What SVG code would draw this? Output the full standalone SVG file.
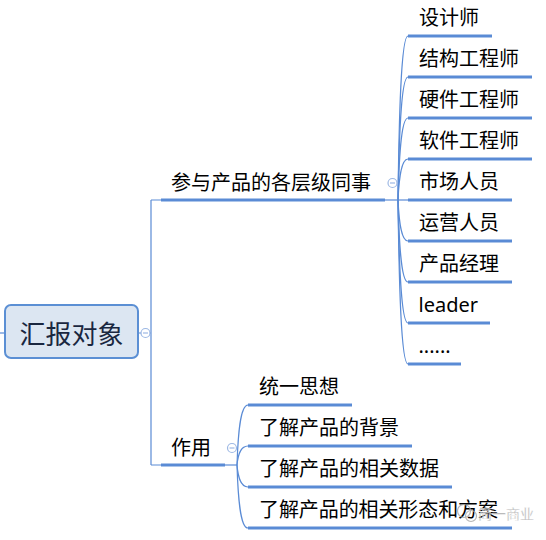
<svg xmlns="http://www.w3.org/2000/svg" width="546" height="540" viewBox="0 0 546 540">
<style>
.t{font-family:"Noto Sans CJK SC","Noto Sans",sans-serif;font-size:20px;fill:#000}
.lat{font-family:"Noto Sans","Noto Sans CJK SC",sans-serif;font-size:20px;fill:#000}
.ul{stroke:#5a8bd5;stroke-width:3;fill:none;stroke-linecap:butt}
.ln{stroke:#5a8bd5;stroke-width:1.2;fill:none}
.btn{fill:#fff;stroke:#9db8e4;stroke-width:1.2}
.mn{stroke:#9db8e4;stroke-width:1.2}
</style>
<rect width="546" height="540" fill="#fff"/>
<g id="connectors">
<path class="ln" d="M0,333 H5"/>
<path class="ln" d="M139,333 H151 M151,200 V465 M151,200 H161 M151,465 H161"/>
<path class="ln" d="M385,200 H408"/>
<path class="ln" d="M398,200 C399,118 401,36 408,36"/>
<path class="ln" d="M398,200 C399,138.5 401,77 408,77"/>
<path class="ln" d="M398,200 C399,159 401,118 408,118"/>
<path class="ln" d="M398,200 C399,179.5 401,159 408,159"/>
<path class="ln" d="M398,200 C399,220.5 401,241 408,241"/>
<path class="ln" d="M398,200 C399,241 401,282 408,282"/>
<path class="ln" d="M398,200 C399,261.5 401,323 408,323"/>
<path class="ln" d="M398,200 C399,282 401,364 408,364"/>
<path class="ln" d="M225,465 H237"/>
<path class="ln" d="M237,465 C238,435 240,405 248,405"/>
<path class="ln" d="M237,465 C238,455.5 240,446 248,446"/>
<path class="ln" d="M237,465 C238,476 240,487 248,487"/>
<path class="ln" d="M237,465 C238,496.5 240,528 248,528"/>
</g>
<g id="root">
<rect x="5" y="305" width="133" height="53" rx="6" fill="#dce6f2" stroke="#5b8fd4" stroke-width="2"/>
<text x="71.5" y="343.5" text-anchor="middle" font-family="Noto Sans CJK SC, sans-serif" font-size="26" fill="#1a2740">汇报对象</text>
<circle class="btn" cx="145.5" cy="333" r="4.5"/><path class="mn" d="M143,333 H148"/>
</g>
<g id="branch-colleagues">
<path class="ul" d="M161,200 H385"/>
<text class="t" x="171" y="189.5">参与产品的各层级同事</text>
<circle class="btn" cx="392.5" cy="183" r="4.5"/><path class="mn" d="M390,183 H395"/>
</g>
<g id="branch-role">
<path class="ul" d="M161,465 H225"/>
<text class="t" x="171" y="454.5">作用</text>
<circle class="btn" cx="232" cy="448" r="4.5"/><path class="mn" d="M229.5,448 H234.5"/>
</g>
<g id="n-designer"><path class="ul" d="M408,36 H492"/><text class="t" x="419" y="25">设计师</text></g>
<g id="n-structure"><path class="ul" d="M408,77 H532"/><text class="t" x="419" y="66">结构工程师</text></g>
<g id="n-hardware"><path class="ul" d="M408,118 H532"/><text class="t" x="419" y="107">硬件工程师</text></g>
<g id="n-software"><path class="ul" d="M408,159 H532"/><text class="t" x="419" y="148">软件工程师</text></g>
<g id="n-market"><path class="ul" d="M408,200 H512"/><text class="t" x="419" y="189">市场人员</text></g>
<g id="n-ops"><path class="ul" d="M408,241 H512"/><text class="t" x="419" y="230">运营人员</text></g>
<g id="n-pm"><path class="ul" d="M408,282 H512"/><text class="t" x="419" y="271">产品经理</text></g>
<g id="n-leader"><path class="ul" d="M408,323 H490"/><text class="lat" x="418.5" y="312">leader</text></g>
<g id="n-more"><path class="ul" d="M408,364 H461"/><text class="lat" x="418.5" y="353">......</text></g>
<g id="n-unify"><path class="ul" d="M248,405 H352"/><text class="t" x="259" y="394">统一思想</text></g>
<g id="n-bg"><path class="ul" d="M248,446 H412"/><text class="t" x="259" y="435">了解产品的背景</text></g>
<g id="n-data"><path class="ul" d="M248,487 H452"/><text class="t" x="259" y="476">了解产品的相关数据</text></g>
<g id="n-form"><path class="ul" d="M248,528 H512"/><text class="t" x="259" y="517" textLength="239" lengthAdjust="spacing">了解产品的相关形态和方案</text></g>
<g id="watermark" opacity="0.85">
<circle cx="464" cy="511" r="6.5" fill="none" stroke="#aaa" stroke-width="1.2"/>
<circle cx="471" cy="516" r="5.5" fill="none" stroke="#aaa" stroke-width="1.2"/>
<text x="478" y="519" font-family="Noto Sans CJK SC, sans-serif" font-size="14" fill="#8a8a8a" stroke="#fff" stroke-width="0.4">简一商业</text>
</g>
</svg>
